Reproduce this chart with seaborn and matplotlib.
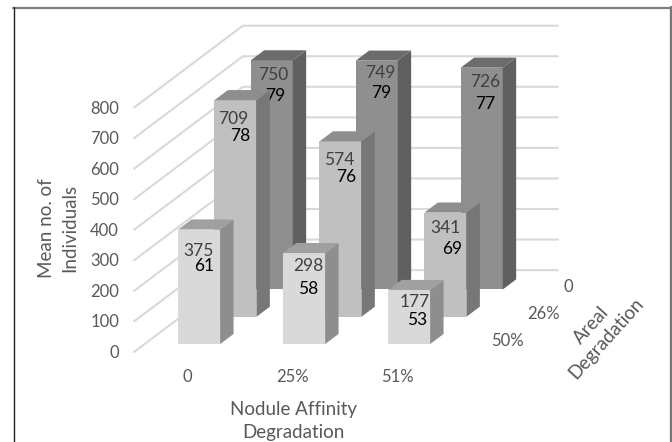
import matplotlib
matplotlib.use("Agg")
import matplotlib.pyplot as plt
from matplotlib.lines import Line2D
from matplotlib.patches import Polygon
from matplotlib.transforms import Affine2D
import pandas as pd
import seaborn as sns

# ---- data ----
affinity = ["0", "25%", "51%"]
areal = ["50%", "26%", "0"]           # front to back
individuals_50 = [375, 298, 177]
individuals_26 = [709, 574, 341]
individuals_0 = [750, 749, 726]
second_50 = [61, 58, 53]
second_26 = [78, 76, 69]
second_0 = [79, 79, 77]
y_ticks = [0, 100, 200, 300, 400, 500, 600, 700, 800]

# ---- styles and layout ----
W, H = 672, 442
PX_CAT, PX_VAL = 105.0, 0.3055       # pixels per category, per value unit
X0, Y0 = 134.0, 352.0                # pixel of the wall's front-bottom corner
DEPTH_DX, DEPTH_DY = 36.3, 27.3      # pixels per depth row
CAT_POS = [0.52, 1.52, 2.52]
BAR_W = 0.40
BAR_D = 0.37
BAR_D0 = 0.29
faces = [("#d9d9d9", "#8e8e8e", "#a0a0a0"),
         ("#c0c0c0", "#777777", "#8e8e8e"),
         ("#8f8f8f", "#606060", "#6c6c6c")]
# label offsets in pixels from the top centre of each front face
off_main = [[(-1, 21), (4, 13), (6, 12)], [(-2, 19), (-1, 19), (0, 15)], [(2, 15), (4, 12), (3, 14)]]
off_second = [[(5, 36), (4, 36), (8, 30)], [(5, 36), (6, 36), (7, 36)], [(4, 36), (5, 32), (4, 36)]]
TXT = "#595959"
GRID = "#d9d9d9"
FS_TICK = 12
FS_LABEL = 12.5
FS_TITLE = 13.5

sns.set_theme(style="white")
plt.rcParams["font.family"] = ["Lato", "DejaVu Sans"]

fig = plt.figure(figsize=(W / 100, H / 100), dpi=100)
ax = fig.add_axes([0, 0, 1, 1])


def proj(x, d, v):
    """oblique projection of (category, depth, value) into axes data units"""
    return x + d * DEPTH_DX / PX_CAT, v + d * DEPTH_DY / PX_VAL


# walls
for v in y_ticks:
    ax.plot(*zip(proj(0, 0, v), proj(0, 3, v), proj(3, 3, v)), color=GRID, lw=1.5, zorder=1)

rows = [individuals_50, individuals_26, individuals_0]
seconds = [second_50, second_26, second_0]

# bars back to front
for r in [2, 1, 0]:
    df = pd.DataFrame({"pos": CAT_POS, "value": rows[r]})
    before = len(ax.patches)
    sns.barplot(data=df, x="pos", y="value", native_scale=True, width=BAR_W,
                color=faces[r][0], saturation=1, ax=ax)
    new = ax.patches[before:]
    d0 = r + BAR_D0
    d1 = d0 + BAR_D
    z = 10 + (2 - r) * 10
    tr = Affine2D().translate(*proj(0, d0, 0)) + ax.transData
    for c, bar in enumerate(new):
        bar.set_transform(tr)
        bar.set_zorder(z)
        bar.set_edgecolor("none")
        xl, xr = bar.get_x(), bar.get_x() + bar.get_width()
        v = bar.get_height()
        side = [proj(xr, d0, 0), proj(xr, d1, 0), proj(xr, d1, v), proj(xr, d0, v)]
        top = [proj(xl, d0, v), proj(xr, d0, v), proj(xr, d1, v), proj(xl, d1, v)]
        ax.add_patch(Polygon(side, closed=True, fc=faces[r][1], ec="none", zorder=z))
        ax.add_patch(Polygon(top, closed=True, fc=faces[r][2], ec="none", zorder=z))
        cx, cy = proj((xl + xr) / 2, d0, v)
        ax.annotate(f"{v:.0f}", (cx, cy), xytext=(off_main[r][c][0], -off_main[r][c][1]),
                    textcoords="offset pixels", ha="center", va="center",
                    fontsize=FS_LABEL, color="#404040", zorder=z + 5)
        ax.annotate(str(seconds[r][c]), (cx, cy), xytext=(off_second[r][c][0], -off_second[r][c][1]),
                    textcoords="offset pixels", ha="center", va="center",
                    fontsize=FS_LABEL, color="#000000", zorder=z + 5)

ax.set_xlim(-X0 / PX_CAT, (W - X0) / PX_CAT)
ax.set_ylim(-(H - Y0) / PX_VAL, Y0 / PX_VAL)
ax.axis("off")

# value ticks
for v in y_ticks:
    ax.annotate(str(v), (0, v), xytext=(-15, -1), textcoords="offset pixels",
                ha="right", va="center", fontsize=FS_TICK, color=TXT)
# category ticks
for c, lab in zip(CAT_POS, affinity):
    fx, fy = proj(c, 0, 0)
    ax.annotate(lab, (fx, fy), xytext=(-1, -25), textcoords="offset pixels",
                ha="center", va="center", fontsize=FS_TICK, color=TXT)
# depth ticks
for r, lab in enumerate(areal):
    fx, fy = proj(3, r + 0.5, 0)
    ax.annotate(lab, (fx, fy), xytext=(23.5, -3), textcoords="offset pixels",
                ha="left", va="center", fontsize=FS_TICK, color=TXT)

fig.text(293 / W, 1 - 421 / H, "Nodule Affinity\nDegradation", ha="center", va="center",
         fontsize=FS_TITLE, color=TXT, linespacing=1.4)
fig.text(58 / W, 1 - 228 / H, "Mean no. of\nIndividuals", ha="center", va="center",
         rotation=90, fontsize=FS_TITLE, color=TXT, linespacing=1.4)
fig.text(599 / W, 1 - 332 / H, "Areal\nDegradation", ha="center", va="center",
         rotation=48, rotation_mode="anchor", fontsize=FS_TITLE, color=TXT, linespacing=1.2)

# picture frame
for xs, ys, col, lw in [((13, 672), (7.5, 7.5), "#808080", 1.6),
                        ((13.5, 13.5), (7, 442), "#222222", 1.0),
                        ((671, 671), (7, 442), "#777777", 2.4)]:
    fig.add_artist(Line2D([x / W for x in xs], [1 - y / H for y in ys],
                          transform=fig.transFigure, color=col, lw=lw))
fig.savefig("out.png", dpi=100)
